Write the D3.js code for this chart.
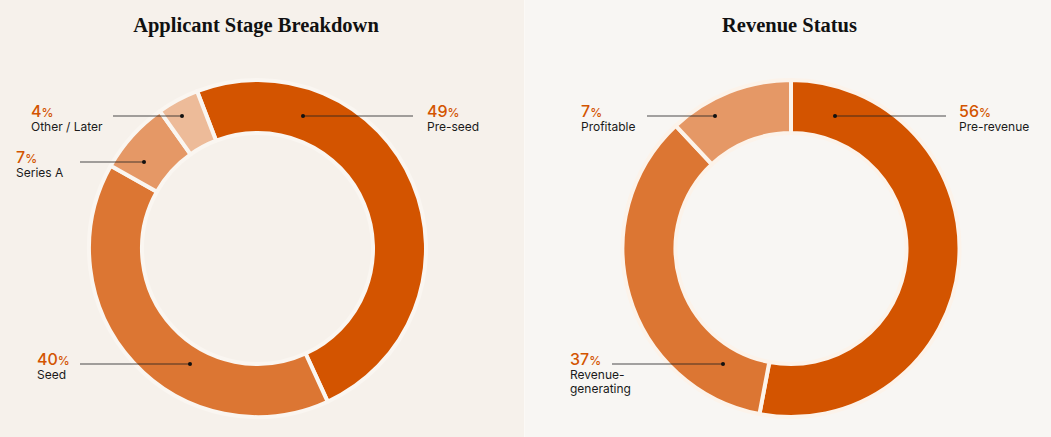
<!DOCTYPE html>
<html>
<head>
<meta charset="utf-8">
<script src="https://cdn.jsdelivr.net/npm/d3@7"></script>
<style>
  html, body { margin: 0; padding: 0; background: #f8f6f3; }
  svg { display: block; }
</style>
</head>
<body>
<script>
// data
var stageNames = ["Pre-seed", "Seed", "Series A", "Other / Later"];
var stageShares = [49, 40, 7, 4];      // arc sizes
var stagePct = [49, 40, 7, 4];         // printed labels

var revenueNames = ["Pre-revenue", "Revenue-|generating", "Profitable"];
var revenueShares = [53, 35, 12];      // arc sizes as drawn
var revenuePct = [56, 37, 7];          // printed labels

var stageColors = ["#d35400", "#dc7633", "#e59866", "#edbb99"];
var revenueColors = ["#d35400", "#dc7633", "#e59866"];

var W = 1051, H = 437;

var svg = d3.select("body").append("svg")
  .attr("width", W)
  .attr("height", H);

// label placement, relative to the donut centre
var stageLabels = [
  {y: -132.5, dot: 45.5, line: 155.5, text: 169.5},
  {y: 115.5, dot: -67.5, line: -177.5, text: -220.5},
  {y: -86.5, dot: -113.5, line: -177.5, text: -241.5},
  {y: -132.5, dot: -75.5, line: -144.5, text: -226.5}
];
var revenueLabels = [
  {y: -132.5, dot: 44, line: 155, text: 168},
  {y: 115.5, dot: -68, line: -179, text: -221},
  {y: -132.5, dot: -76, line: -144, text: -210}
];

var panels = [
  {x: 0, w: 524, bg: "#f6f1eb", stroke: "#faf6f1", title: "Applicant Stage Breakdown",
   names: stageNames, shares: stageShares, pct: stagePct, colors: stageColors,
   labels: stageLabels, cx: 257.5, start: -21},
  {x: 524, w: 527, bg: "#f8f6f3", stroke: "#fcf3ea", title: "Revenue Status",
   names: revenueNames, shares: revenueShares, pct: revenuePct, colors: revenueColors,
   labels: revenueLabels, cx: 791, start: 0}
];

var cy = 248.5;
var arc = d3.arc().innerRadius(115.5).outerRadius(168.5);

panels.forEach(function(p) {
  svg.append("rect")
    .attr("x", p.x).attr("y", 0)
    .attr("width", p.w).attr("height", H)
    .attr("fill", p.bg);

  svg.append("text")
    .attr("x", p.cx - 1.5)
    .attr("y", 32)
    .attr("text-anchor", "middle")
    .attr("font-family", "'Liberation Serif', serif")
    .attr("font-weight", "bold")
    .attr("font-size", 20.5)
    .attr("fill", "#111")
    .text(p.title);

  var a0 = p.start * Math.PI / 180;
  var pie = d3.pie().sort(null).startAngle(a0).endAngle(a0 + 2 * Math.PI);
  var slices = pie(p.shares);

  var g = svg.append("g").attr("transform", "translate(" + p.cx + "," + cy + ")");

  g.selectAll("path")
    .data(slices)
    .enter().append("path")
    .attr("d", arc)
    .attr("fill", function(d, i) { return p.colors[i]; })
    .attr("stroke", p.stroke)
    .attr("stroke-width", 4)
    .attr("stroke-linejoin", "round");

  // leader lines and dots
  g.selectAll("line.lead")
    .data(p.labels)
    .enter().append("line")
    .attr("class", "lead")
    .attr("x1", function(d) { return d.dot; })
    .attr("x2", function(d) { return d.line; })
    .attr("y1", function(d) { return d.y; })
    .attr("y2", function(d) { return d.y; })
    .attr("stroke", "#222")
    .attr("stroke-opacity", 0.8)
    .attr("stroke-width", 1);

  g.selectAll("circle.dot")
    .data(p.labels)
    .enter().append("circle")
    .attr("class", "dot")
    .attr("cx", function(d) { return d.dot; })
    .attr("cy", function(d) { return d.y; })
    .attr("r", 2)
    .attr("fill", "#111");

  var lab = g.selectAll("g.lab")
    .data(p.labels)
    .enter().append("g")
    .attr("class", "lab")
    .attr("transform", function(d) { return "translate(" + d.text + "," + d.y + ")"; });

  var pctText = lab.append("text")
    .attr("y", 1)
    .attr("font-family", "Inter, sans-serif")
    .attr("font-weight", 500)
    .attr("font-size", 16)
    .attr("fill", "#d35400");
  pctText.append("tspan").text(function(d, i) { return p.pct[i]; });
  pctText.append("tspan")
    .attr("font-size", 12)
    .text("%");

  lab.append("text")
    .attr("font-family", "Inter, sans-serif")
    .attr("font-size", 12)
    .attr("fill", "#1a1a1a")
    .selectAll("tspan")
    .data(function(d, i) { return p.names[i].split("|"); })
    .enter().append("tspan")
    .attr("x", 0)
    .attr("y", function(d, j) { return 15 + j * 14; })
    .text(function(d) { return d; });
});

// thin light divider between the two panels
svg.append("line")
  .attr("x1", 524.5).attr("x2", 524.5)
  .attr("y1", 0).attr("y2", H)
  .attr("stroke", "#fbf9f6")
  .attr("stroke-width", 1);
</script>
</body>
</html>
